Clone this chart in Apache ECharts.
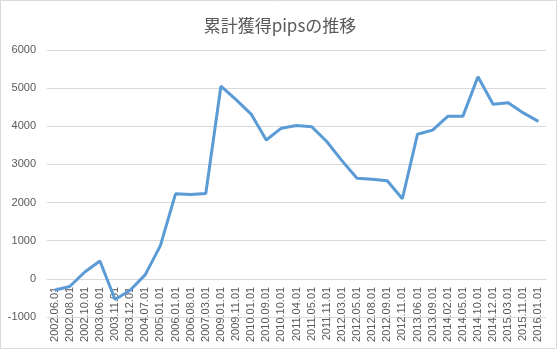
<!DOCTYPE html>
<html><head><meta charset="utf-8">
<script src="https://cdn.jsdelivr.net/npm/echarts@6/dist/echarts.min.js"></script>
<style>html,body{margin:0;padding:0;background:#fff}#c{width:560px;height:350px}</style>
</head><body><div id="c"></div>
<script>
const titleText = '累計獲得pipsの推移';
const categories = ['2002.06.01','2002.08.01','2002.10.01','2003.06.01','2003.11.01','2003.12.01','2004.07.01','2005.01.01','2006.01.01','2006.08.01','2007.03.01','2009.01.01','2009.11.01','2010.01.01','2010.09.01','2010.10.01','2011.04.01','2011.05.01','2011.11.01','2012.03.01','2012.05.01','2012.08.01','2012.09.01','2012.11.01','2013.06.01','2013.09.01','2014.02.01','2014.05.01','2014.10.01','2014.12.01','2015.03.01','2015.11.01','2016.01.01'];
const pips = [-300,-200,180,470,-540,-300,110,870,2230,2210,2240,5050,4700,4320,3640,3950,4020,3990,3600,3100,2640,2610,2570,2100,3790,3900,4260,4260,5300,4580,4620,4350,4130];
const yMin = -1000, yMax = 6000, yStep = 1000;

const gridTop = 50, gridBottom = 33, H = 350;
const plotH = H - gridTop - gridBottom;
const zeroOffset = -plotH * (0 - yMin) / (yMax - yMin);

const chart = echarts.init(document.getElementById('c'), null, {renderer:'canvas'});
chart.setOption({
  animation:false,
  backgroundColor:'#fff',
  title:{text:titleText,left:'center',top:12,itemGap:0,
    textStyle:{fontFamily:'"Noto Sans CJK JP", sans-serif',fontSize:17,fontWeight:'normal',color:'#595959'}},
  graphic:[{type:'rect',shape:{x:0.5,y:0.5,width:556,height:348},style:{fill:'none',stroke:'#d9d9d9',lineWidth:1},silent:true}],
  grid:{left:47,right:14,top:gridTop,bottom:gridBottom,containLabel:false,outerBoundsMode:'none'},
  xAxis:{type:'category',data:categories,boundaryGap:true,offset:zeroOffset,z:0,
    axisLine:{onZero:false,lineStyle:{color:'#d9d9d9'}},
    axisTick:{show:false},
    axisLabel:{rotate:90,interval:0,margin:8,fontSize:11,color:'#595959',fontFamily:'"Liberation Sans", Arial, sans-serif'}},
  yAxis:{type:'value',min:yMin,max:yMax,interval:yStep,
    axisLine:{show:false},axisTick:{show:false},
    splitLine:{lineStyle:{color:'#d9d9d9'}},
    axisLabel:{fontSize:11,color:'#595959',margin:11,fontFamily:'"Liberation Sans", Arial, sans-serif',formatter:function(v){return String(v);}}},
  series:[{type:'line',z:10,data:pips,symbol:'none',lineStyle:{color:'#5B9BD5',width:3},itemStyle:{color:'#5B9BD5'}}]
});
</script></body></html>
